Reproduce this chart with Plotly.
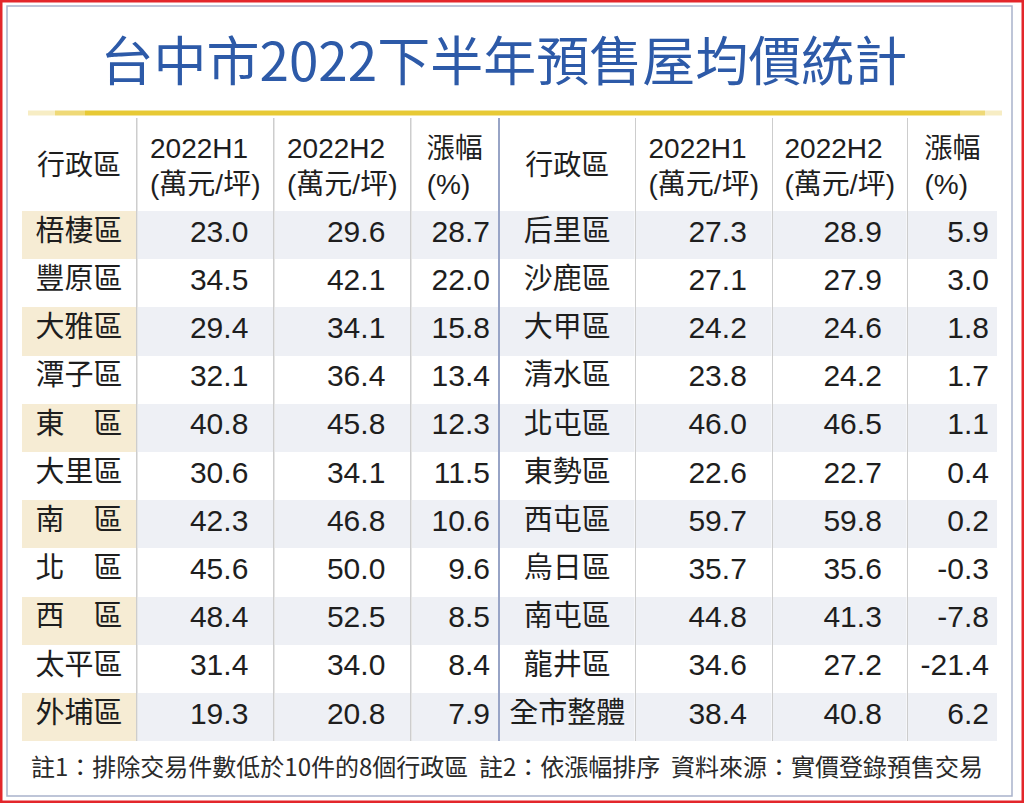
import plotly.graph_objects as go

# 台中市 2022 下半年預售屋均價 (萬元/坪)
left_names = ["梧棲區", "豐原區", "大雅區", "潭子區", "東　區", "大里區",
              "南　區", "北　區", "西　區", "太平區", "外埔區"]
left_h1 = [23.0, 34.5, 29.4, 32.1, 40.8, 30.6, 42.3, 45.6, 48.4, 31.4, 19.3]
left_h2 = [29.6, 42.1, 34.1, 36.4, 45.8, 34.1, 46.8, 50.0, 52.5, 34.0, 20.8]
left_pct = [28.7, 22.0, 15.8, 13.4, 12.3, 11.5, 10.6, 9.6, 8.5, 8.4, 7.9]

right_names = ["后里區", "沙鹿區", "大甲區", "清水區", "北屯區", "東勢區",
               "西屯區", "烏日區", "南屯區", "龍井區", "全市整體"]
right_h1 = [27.3, 27.1, 24.2, 23.8, 46.0, 22.6, 59.7, 35.7, 44.8, 34.6, 38.4]
right_h2 = [28.9, 27.9, 24.6, 24.2, 46.5, 22.7, 59.8, 35.6, 41.3, 27.2, 40.8]
right_pct = [5.9, 3.0, 1.8, 1.7, 1.1, 0.4, 0.2, -0.3, -7.8, -21.4, 6.2]

name_header = "行政區"
value_headers = ["2022H1<br>(萬元/坪)", "2022H2<br>(萬元/坪)", "漲幅<br>(%)"]

title = "台中市2022下半年預售屋均價統計"
note = "註1：排除交易件數低於10件的8個行政區  註2：依漲幅排序  資料來源：實價登錄預售交易"

W, H = 1024, 803
n = len(left_names)
SHADE = "#eef0f5"
BEIGE = "#f6ecd4"
GRID = "#cdcdcd"
MID = "#98a4c6"
CLEAR = "rgba(0,0,0,0)"


def fmt(vals, pad=""):
    return [f"{v:.1f}{pad}" for v in vals]


def shade(c):
    return [c if i % 2 == 0 else "white" for i in range(n)]


# columns, with thin filled spacer columns acting as the vertical rules
cols = []   # dicts: kind, header, values, fill, align, width, size
def add(kind, hd, vals, fill, align, width, size=30):
    cols.append(dict(kind=kind, hd=hd, vals=vals, fill=fill, align=align,
                     width=width, size=size))

def rule(color=GRID, width=1.5):
    add("rule", "", [""] * n, [color] * n, "center", width)

add("name", name_header, left_names, shade(BEIGE), "center", 114, 29)
rule()
add("val", value_headers[0], fmt(left_h1, "\u2007"), shade(SHADE), "right", 135.5)
rule()
add("val", value_headers[1], fmt(left_h2, "\u2007"), shade(SHADE), "right", 135.5)
rule()
add("val", value_headers[2], fmt(left_pct), shade(SHADE), "right", 86.5)
rule(MID, 2)
add("name", name_header, right_names, shade(SHADE), "center", 134.5, 29)
rule()
add("val", value_headers[0], fmt(right_h1, "\u2007"), shade(SHADE), "right", 135.5)
rule()
add("val", value_headers[1], fmt(right_h2, "\u2007"), shade(SHADE), "right", 133.5)
rule()
add("val", value_headers[2], fmt(right_pct), shade(SHADE), "right", 89)

font = "Liberation Sans, Arial, Noto Sans CJK TC"
text_font = dict(family=font, size=28, color="#1e1e1e")
widths = [c["width"] for c in cols]
x_dom = [22 / W, 997 / W]
top, bottom = 118, 741


def ydom(t, b):
    return [(H - b) / H, (H - t) / H]


# main table: fills, rules and body cells (header row left blank)
main = go.Table(
    domain=dict(x=x_dom, y=ydom(top, bottom)),
    columnwidth=widths,
    header=dict(
        values=[""] * len(cols),
        fill_color=[c["fill"][0] if c["kind"] == "rule" else "white" for c in cols],
        line=dict(width=0),
        height=93,
    ),
    cells=dict(
        values=[c["vals"] for c in cols],
        fill_color=[c["fill"] for c in cols],
        line=dict(width=0),
        align=[c["align"] for c in cols],
        font=dict(family=font, size=[c["size"] for c in cols], color="#1e1e1e"),
        height=48.2,
    ),
)


# transparent header-only overlays so the labels sit where the reference has them
def header_layer(kind, t):
    return go.Table(
        domain=dict(x=x_dom, y=ydom(t, t + 80)),
        columnwidth=widths,
        header=dict(
            values=[c["hd"] if c["kind"] == kind else "" for c in cols],
            fill_color=CLEAR,
            line=dict(width=0, color=CLEAR),
            align="center",
            font=text_font,
            height=40,
        ),
        cells=dict(values=[[] for _ in cols], fill_color=CLEAR,
                   line=dict(width=0, color=CLEAR)),
    )


fig = go.Figure([main, header_layer("val", 125), header_layer("name", 146)])

shapes = [
    # outer red frame and inner thin frame
    dict(type="rect", xref="paper", yref="paper", x0=0, x1=1, y0=0, y1=1,
         line=dict(color="#e3262b", width=5)),
    dict(type="rect", xref="paper", yref="paper", x0=7 / W, x1=1012 / W,
         y0=(H - 796) / H, y1=(H - 6) / H, line=dict(color="#a9b3cc", width=1.5)),
]
# gold rule under the title, fading at both ends
gold = [("#f7edc4", 28, 55), ("#efd977", 55, 85), ("#e7c935", 85, 960),
        ("#efd977", 960, 985), ("#f7edc4", 985, 1002)]
for col, a, b in gold:
    shapes.append(dict(type="line", xref="paper", yref="paper",
                       x0=a / W, x1=b / W, y0=(H - 113) / H, y1=(H - 113) / H,
                       line=dict(color=col, width=5)))

fig.update_layout(
    width=W, height=H,
    margin=dict(l=0, r=0, t=0, b=0),
    paper_bgcolor="white",
    title=dict(text=title, x=0.492, xanchor="center", y=1 - 62 / H, yanchor="middle",
               font=dict(family="Noto Sans CJK TC", size=53, color="#2d5aa8")),
    shapes=shapes,
    annotations=[dict(text=note, xref="paper", yref="paper", x=507 / W, y=1 - 765 / H,
                      showarrow=False, xanchor="center", yanchor="middle",
                      font=dict(family="Noto Sans CJK TC", size=24, color="#2a2a2a"))],
)

fig.write_html("out.html", config={"displayModeBar": False},
               post_script="document.body.style.margin='0';")
